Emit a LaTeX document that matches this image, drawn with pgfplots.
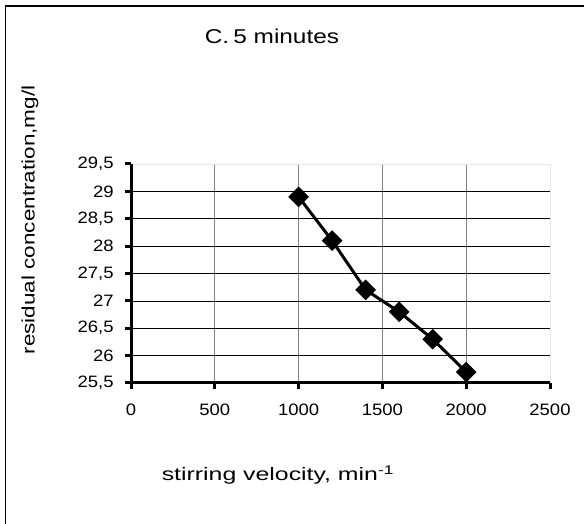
\documentclass[border=0pt]{standalone}
\usepackage{pgfplots}
\pgfplotsset{compat=1.18}
\usepackage{fontspec}
\setmainfont{Liberation Sans}
\begin{document}
\begin{tikzpicture}[x=1pt,y=1pt]
\useasboundingbox (0,0) rectangle (584,524);
\draw[line width=1.5pt] (5.5,0) -- (5.5,518) -- (584,518);
\node[font=\fontsize{20}{23}\selectfont] at (272,488) {\scalebox{1.22}[1]{C.\,5 minutes}};
\node[font=\fontsize{18}{21}\selectfont, rotate=90] at (30,304) {\scalebox{1.25}[1]{residual concentration,mg/l}};
\node[font=\fontsize{18}{21}\selectfont] at (278,49) {\scalebox{1.38}[1]{stirring velocity, min\textsuperscript{-1}}};
\begin{axis}[
  at={(131pt,141pt)}, anchor=south west,
  scale only axis, width=419pt, height=219pt,
  xmin=0, xmax=2500, ymin=25.5, ymax=29.5,
  clip=false,
  xtick={0,500,...,2000}, extra x ticks={2500},
  extra x tick style={grid=none, major grid style={draw=none}},
  ytick={25.5,26,...,29}, extra y ticks={29.5},
  extra y tick style={grid=none, major grid style={draw=none}},
  axis x line*=bottom, axis y line*=left,
  axis line style={draw=none},
  grid=major,
  major x grid style={gray, line width=0.8pt},
  major y grid style={black, line width=0.7pt},
  major tick length=0pt,
  /pgf/number format/assume math mode=true,
  /pgf/number format/use comma,
  /pgf/number format/1000 sep={},
  ticklabel style={font=\fontsize{16.5}{19}\selectfont, xscale=1.12},
  yticklabel style={xshift=-12pt},
  xticklabel style={yshift=-17pt},
]
\addplot[gray!20, line width=0.8pt, no marks] coordinates {(0,29.5) (2500,29.5) (2500,25.5)};
\addplot[black, line width=3pt, mark=square*, mark size=5.8pt, mark options={rotate=45, solid}]
  coordinates {(1000,28.9) (1200,28.1) (1400,27.2) (1600,26.8) (1800,26.3) (2000,25.7)};
\addplot[black, line width=3pt, no marks] coordinates {(0,29.5) (0,25.5) (2500,25.5)};
\pgfplotsinvokeforeach{0,500,1000,1500,2000,2500}{\draw[black, line width=3pt] (axis cs:#1,25.5) -- ++(0pt,-6pt);}
\pgfplotsinvokeforeach{25.5,26,26.5,27,27.5,28,28.5,29,29.5}{\draw[black, line width=3pt] (axis cs:0,#1) -- ++(-6pt,0pt);}
\end{axis}
\end{tikzpicture}
\end{document}
